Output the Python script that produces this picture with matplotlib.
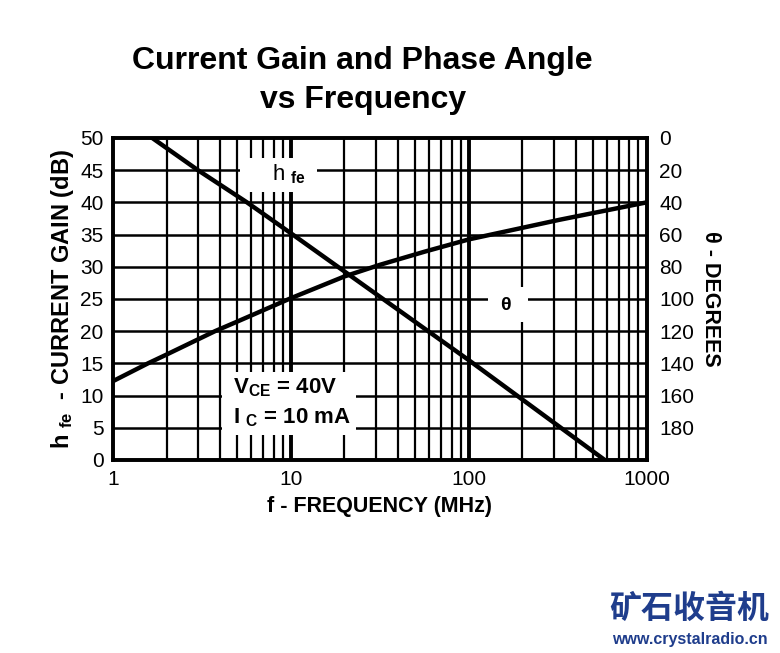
import numpy as np
import matplotlib.pyplot as plt
import matplotlib.ticker as ticker
from matplotlib.patches import Rectangle

# ── Data ──────────────────────────────────────────────────────────────────────
hfe_freq = [1.66, 3.0, 5.66, 10.0, 100.0, 581.0]        # MHz
hfe_db = [50.0, 45.0, 40.0, 35.2, 15.5, 0.0]             # dB

theta_freq = [1.0, 1.57, 2.0, 3.74, 5.0, 10.0, 20.0, 31.6, 56.5, 100.0, 324.0, 1000.0]  # MHz
theta_deg = [151.0, 140.0, 134.5, 120.0, 114.0, 99.5, 86.0, 78.8, 70.6, 63.0, 50.8, 40.0]

gain_ticks = [0, 5, 10, 15, 20, 25, 30, 35, 40, 45, 50]
deg_ticks = [0, 20, 40, 60, 80, 100, 120, 140, 160, 180]
freq_ticks = [1, 10, 100, 1000]

plt.rcParams.update({
    "font.family": ["Liberation Sans", "DejaVu Sans"],
    "mathtext.fontset": "custom",
    "mathtext.rm": "Liberation Sans:bold",
    "mathtext.it": "Liberation Sans:bold",
    "mathtext.bf": "Liberation Sans:bold",
})

fig = plt.figure(figsize=(7.8, 6.53), dpi=100)
ax = fig.add_axes([0.145, 0.2956, 0.684, 0.4931])

ax.set_xscale("log")
ax.set_xlim(1, 1000)
ax.set_ylim(0, 50)

# grid: minor verticals, heavier decade lines, horizontals every 5 dB
for dec in [1, 10, 100]:
    for m in range(2, 10):
        ax.axvline(dec * m, color="black", lw=1.6, zorder=1)
for f in [10, 100]:
    ax.axvline(f, color="black", lw=2.8, zorder=1)
for g in gain_ticks[1:-1]:
    ax.axhline(g, color="black", lw=1.8, zorder=1)

ax.set_xticks(freq_ticks)
ax.xaxis.set_major_formatter(ticker.FuncFormatter(lambda v, p: f"{int(v)}"))
ax.xaxis.set_minor_locator(ticker.NullLocator())
ax.set_yticks(gain_ticks)
ax.tick_params(axis="both", length=0, labelsize=15, pad=7)
for s in ax.spines.values():
    s.set_linewidth(2.6)

# white boxes that blank the grid behind the labels
for (x0, x1, y0, y1) in [(5.17, 14.0, 41.6, 46.9), (128, 214, 21.4, 26.9), (4.1, 23.2, 3.9, 13.7)]:
    ax.add_patch(Rectangle((x0, y0), x1 - x0, y1 - y0, facecolor="white",
                           edgecolor="none", zorder=2))

ax.plot(hfe_freq, hfe_db, color="black", lw=3.2, zorder=3)

ax.text(7.8, 44.3, r"h $_{\rm fe}$", fontsize=16, ha="left", va="center", zorder=4)
ax.text(161, 24.0, "θ", fontsize=14, ha="center", va="center", fontweight="bold", zorder=4)
ax.text(4.72, 11.2, "V$_{\\rm CE}$ = 40V", fontsize=16, ha="left", va="center",
        fontweight="bold", zorder=4)
ax.text(4.72, 6.6, "I $_{\\rm C}$ = 10 mA", fontsize=16, ha="left", va="center",
        fontweight="bold", zorder=4)

ax2 = ax.twinx()
ax2.set_ylim(200, 0)
ax2.set_yticks(deg_ticks)
ax2.tick_params(length=0, labelsize=15, pad=9)
for s in ax2.spines.values():
    s.set_linewidth(2.6)
ax2.plot(theta_freq, theta_deg, color="black", lw=3.2, zorder=3)

ax.set_xlabel("f - FREQUENCY (MHz)", fontsize=15.5, fontweight="bold", labelpad=5)
ax.set_ylabel(r"h $_{\rm fe}$  - CURRENT GAIN (dB)", fontsize=17, fontweight="bold", labelpad=3)
ax2.set_ylabel("θ - DEGREES", fontsize=15.5, fontweight="bold", rotation=270, labelpad=19)

fig.text(0.465, 0.877, "Current Gain and Phase Angle\nvs Frequency", ha="center", va="center",
         fontsize=23, fontweight="bold", linespacing=1.4)

# watermark
fig.text(0.883, 0.067, "矿石收音机", ha="center", va="center", fontsize=23, fontweight="bold",
         color="#1f3d8c", family=["Noto Sans CJK SC", "DejaVu Sans"])
fig.text(0.884, 0.02, "www.crystalradio.cn", ha="center", va="center", fontsize=11.5,
         fontweight="bold", color="#1f3d8c")

fig.savefig("out.png", dpi=100)
